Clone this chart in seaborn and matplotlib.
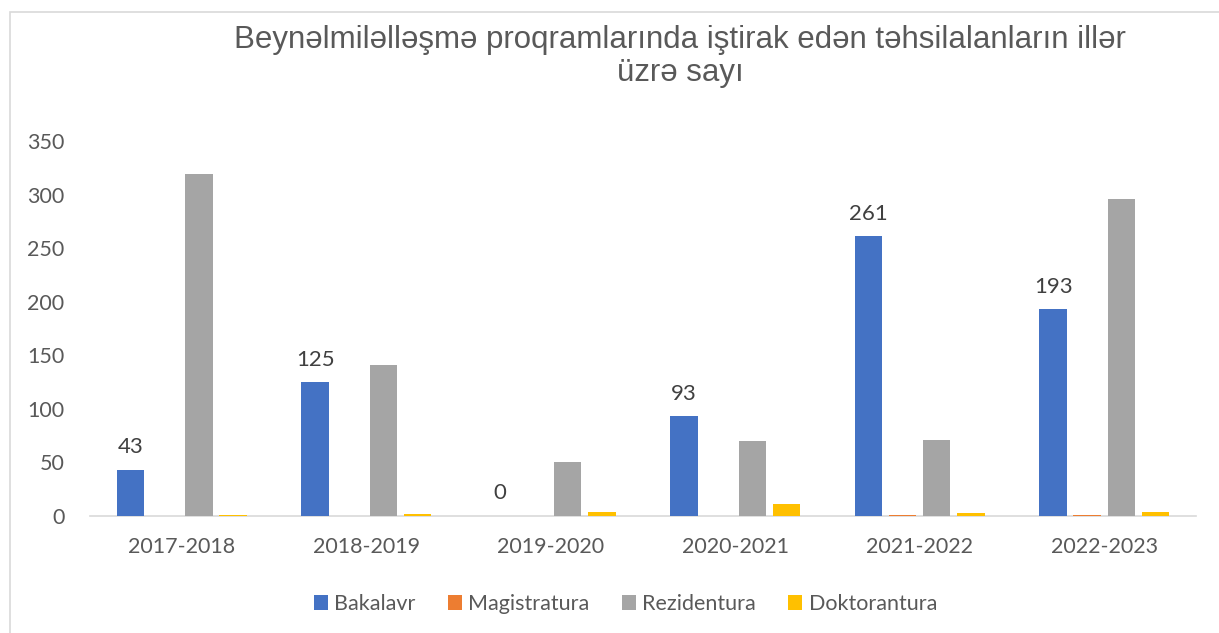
import matplotlib
matplotlib.use("Agg")
import matplotlib.pyplot as plt
import seaborn as sns
import pandas as pd
from matplotlib.patches import Rectangle

years = ["2017-2018", "2018-2019", "2019-2020", "2020-2021", "2021-2022", "2022-2023"]
series = ["Bakalavr", "Magistratura", "Rezidentura", "Doktorantura"]
bakalavr = [43, 125, 0, 93, 261, 193]
magistratura = [0, 0, 0, 0, 0.5, 0.5]
rezidentura = [319, 141, 50, 70, 71, 296]
doktorantura = [1, 2, 4, 11, 3, 4]
colors = ["#4472C4", "#ED7D31", "#A5A5A5", "#FFC000"]

rows = []
for name, vals in zip(series, [bakalavr, magistratura, rezidentura, doktorantura]):
    for y, v in zip(years, vals):
        rows.append({"year": y, "series": name, "value": v})
df = pd.DataFrame(rows)

sns.set_theme(style="white")
plt.rcParams["font.family"] = ["Lato", "DejaVu Sans"]

fig = plt.figure(figsize=(12.19, 6.33), dpi=100)
ax = fig.add_axes([0.0735, 0.185, 0.908, 0.592])
sns.barplot(data=df, x="year", y="value", hue="series", hue_order=series,
            order=years, palette=colors, width=0.74, gap=0.2, ax=ax,
            saturation=1, legend=True, linewidth=0)

ax.set_ylim(0, 350)
ax.set_yticks(range(0, 351, 50))
ax.set_xlabel("")
ax.set_ylabel("")
for s in ["top", "right", "left"]:
    ax.spines[s].set_visible(False)
ax.spines["bottom"].set_color("#d9d9d9")
ax.spines["bottom"].set_linewidth(1.2)
ax.spines["bottom"].set_zorder(0.5)
ax.tick_params(axis="both", colors="#595959", labelsize=15.5, length=0)
ax.tick_params(axis="y", pad=18)
ax.tick_params(axis="x", pad=15)

# data labels for Bakalavr
bak_container = ax.containers[0]
ax.bar_label(bak_container, labels=[str(v) for v in bakalavr], padding=9,
             fontsize=16, color="#404040")

leg = ax.legend(loc="upper center", bbox_to_anchor=(0.484, -0.157), ncol=4,
                frameon=False, fontsize=15.5, handlelength=0.65, handleheight=0.65,
                handletextpad=0.3, columnspacing=1.5, labelcolor="#595959")

fig.text(0.558, 0.937, "Beynəlmiləlləşmə proqramlarında iştirak edən təhsilalanların illər",
         ha="center", va="center", fontsize=22.5, color="#595959", family="Liberation Sans")
fig.text(0.558, 0.884, "üzrə sayı", ha="center", va="center", fontsize=22.5,
         color="#595959", family="Liberation Sans")

fig.add_artist(Rectangle((10 / 1219, -0.05), 1.2, 1 - 12 / 633 + 0.05,
                         transform=fig.transFigure, fill=False,
                         edgecolor="#d9d9d9", linewidth=1.2))

fig.savefig("out.png", dpi=100)
